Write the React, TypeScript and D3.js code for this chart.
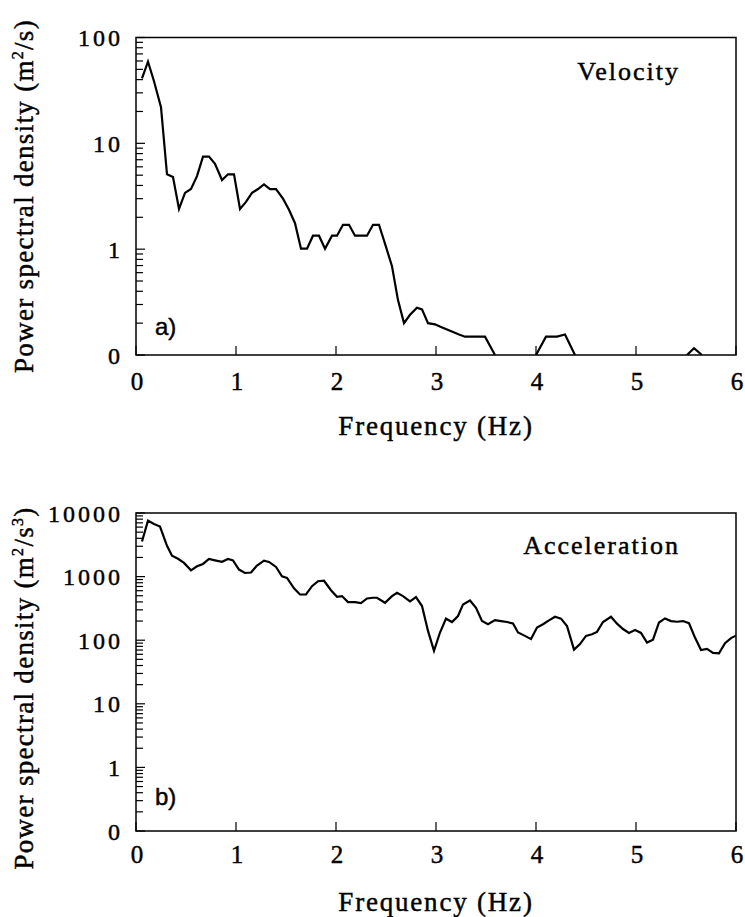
import React from "react";
import * as d3 from "d3";

// ---------- data ----------
const xTicks = [0, 1, 2, 3, 4, 5, 6];

const velFreq = [0.06,0.12,0.18,0.25,0.31,0.37,0.43,0.49,0.55,0.61,0.67,0.73,0.79,0.86,0.92,0.98,1.04,1.10,1.16,1.22,1.28,1.34,1.40,1.47,1.53,1.59,1.65,1.71,1.77,1.83,1.89,1.96,2.01,2.07,2.13,2.19,2.25,2.31,2.37,2.43,2.50,2.56,2.62,2.68,2.74,2.81,2.86,2.92,2.99,3.05,3.11,3.17,3.23,3.29,3.35,3.41,3.49,3.59,3.80,4.00,4.10,4.21,4.29,4.39,5.00,5.51,5.58,5.66];
const velPsd: (number | null)[] = [41,59,38.6,22,5.1,4.8,2.4,3.4,3.7,4.9,7.5,7.5,6.4,4.5,5.1,5.1,2.4,2.8,3.4,3.7,4.1,3.7,3.7,3.0,2.36,1.76,1.01,1.01,1.34,1.34,1.01,1.34,1.34,1.70,1.70,1.34,1.34,1.34,1.70,1.70,1.05,0.69,0.33,0.20,0.24,0.28,0.27,0.20,0.195,0.184,0.174,0.165,0.156,0.149,0.149,0.149,0.149,0.1,null,0.1,0.149,0.149,0.156,0.1,null,0.1,0.116,0.1];

const accFreq = [0.06,0.12,0.18,0.24,0.31,0.36,0.42,0.48,0.55,0.61,0.67,0.73,0.79,0.86,0.92,0.97,1.03,1.09,1.15,1.21,1.28,1.33,1.40,1.46,1.51,1.58,1.64,1.70,1.76,1.82,1.88,1.95,2.01,2.06,2.12,2.19,2.25,2.31,2.37,2.41,2.49,2.56,2.61,2.67,2.74,2.80,2.86,2.92,2.98,3.04,3.10,3.16,3.22,3.27,3.34,3.40,3.46,3.52,3.59,3.65,3.71,3.77,3.82,3.89,3.95,4.01,4.07,4.13,4.19,4.25,4.31,4.38,4.44,4.50,4.56,4.61,4.67,4.75,4.81,4.87,4.93,4.99,5.05,5.11,5.17,5.23,5.29,5.35,5.41,5.47,5.53,5.59,5.65,5.71,5.77,5.83,5.89,5.95,6.00];
const accPsd = [3560,7590,6730,6110,3050,2130,1910,1640,1256,1450,1580,1890,1800,1710,1890,1800,1290,1140,1160,1490,1780,1700,1420,1010,955,656,523,523,706,845,860,611,482,494,397,397,383,453,465,465,388,493,556,493,407,475,344,140,68,132,218,193,240,365,422,324,200,178,207,200,193,184,132,117,104,158,178,205,234,218,167,71,87,117,124,135,193,234,182,150,130,145,130,92,102,190,220,200,195,200,185,110,70,73,63,62,90,108,118];

const velTicks = [0.1, 1, 10, 100];
const accTicks = [0.1, 1, 10, 100, 1000, 10000];

const SERIF = "'Liberation Serif', 'Times New Roman', serif";
const SANS = "'Liberation Sans', Arial, sans-serif";
const TXT = { stroke: "#000", strokeWidth: 0.45 };

type PanelProps = {
  id: string;
  top: number;
  bottom: number;
  freq: number[];
  psd: (number | null)[];
  yTicks: number[];
  title: string;
  titleBaseline: number;
  tag: string;
  tagBaseline: number;
  unitSup: string;
  yTitleCenter: number;
  xLabelOffset: number;
};

const LEFT = 136;
const RIGHT = 736;

function Panel(p: PanelProps) {
  const x = d3.scaleLinear().domain([0, 6]).range([LEFT, RIGHT]);
  const y = d3
    .scaleLog()
    .domain([p.yTicks[0], p.yTicks[p.yTicks.length - 1]])
    .range([p.bottom, p.top]);
  const data = p.freq.map((f, i) => ({ f, v: p.psd[i] }));
  const line = d3
    .line<{ f: number; v: number | null }>()
    .defined((d) => d.v != null)
    .x((d) => x(d.f))
    .y((d) => y(d.v as number));
  const minor = y.ticks(20);
  const fmt = (t: number) => (t < 1 ? "0" : String(t));

  return (
    <g>
      <defs>
        <clipPath id={`clip-${p.id}`}>
          <rect x={LEFT} y={p.top} width={RIGHT - LEFT} height={p.bottom - p.top} />
        </clipPath>
      </defs>
      {/* y ticks */}
      {minor.map((t, i) => {
        const lg = Math.log10(t);
        const isMajor = Math.abs(lg - Math.round(lg)) < 1e-9;
        return (
          <line
            key={`yt${i}`}
            x1={LEFT}
            x2={LEFT + (isMajor ? 9 : 7)}
            y1={y(t)}
            y2={y(t)}
            stroke="#000"
            strokeWidth={1.2}
          />
        );
      })}
      {p.yTicks.map((t, i) => (
        <text
          key={`yl${i}`}
          x={123}
          y={y(t)}
          dy="0.36em"
          textAnchor="end"
          fontFamily={SERIF}
          fontSize={24}
          letterSpacing={3}
          {...TXT}
        >
          {fmt(t)}
        </text>
      ))}
      {/* x ticks */}
      {xTicks.map((t, i) => (
        <line key={`xt${i}`} x1={x(t)} x2={x(t)} y1={p.bottom} y2={p.bottom - 9} stroke="#000" strokeWidth={1.2} />
      ))}
      {xTicks.map((t, i) => (
        <text
          key={`xl${i}`}
          x={x(t) + 1}
          y={p.bottom + p.xLabelOffset}
          textAnchor="middle"
          fontFamily={SERIF}
          fontSize={25}
          {...TXT}
        >
          {t}
        </text>
      ))}
      {/* frame */}
      <rect
        x={LEFT}
        y={p.top}
        width={RIGHT - LEFT}
        height={p.bottom - p.top}
        fill="none"
        stroke="#000"
        strokeWidth={1.5}
      />
      {/* data */}
      <path
        d={line(data as any) || ""}
        fill="none"
        stroke="#000"
        strokeWidth={2.2}
        strokeLinejoin="miter"
        clipPath={`url(#clip-${p.id})`}
      />
      {/* labels */}
      <text
        x={RIGHT - 56}
        y={p.titleBaseline}
        textAnchor="end"
        fontFamily={SERIF}
        fontSize={26}
        letterSpacing={2}
        {...TXT}
      >
        {p.title}
      </text>
      <text x={155} y={p.tagBaseline} fontFamily={SANS} fontSize={24} {...TXT}>
        {p.tag}
      </text>
      <text
        x={436}
        y={p.bottom + 80}
        textAnchor="middle"
        fontFamily={SERIF}
        fontSize={27}
        letterSpacing={1.8}
        {...TXT}
      >
        Frequency (Hz)
      </text>
      <text
        transform={`translate(33,${p.yTitleCenter}) rotate(-90)`}
        textAnchor="middle"
        fontFamily={SERIF}
        fontSize={27}
        letterSpacing={1.3}
        {...TXT}
      >
        Power spectral density (m
        <tspan dy={-10} fontSize={16}>2</tspan>
        <tspan dy={10}>/s</tspan>
        {p.unitSup ? <tspan dy={-10} fontSize={16}>{p.unitSup}</tspan> : null}
        <tspan dy={p.unitSup ? 10 : 0}>)</tspan>
      </text>
    </g>
  );
}

export default function App() {
  return (
    <svg
      width={745}
      height={917}
      style={{ position: "absolute", left: 0, top: 0, background: "#fff" }}
    >
      <rect width={745} height={917} fill="#fff" />
      <Panel
        id="vel"
        top={37.5}
        bottom={355}
        freq={velFreq}
        psd={velPsd}
        yTicks={velTicks}
        title="Velocity"
        titleBaseline={80}
        tag="a)"
        tagBaseline={335}
        unitSup=""
        yTitleCenter={196}
        xLabelOffset={35}
      />
      <Panel
        id="acc"
        top={513}
        bottom={831}
        freq={accFreq}
        psd={accPsd}
        yTicks={accTicks}
        title="Acceleration"
        titleBaseline={554}
        tag="b)"
        tagBaseline={805}
        unitSup="3"
        yTitleCenter={688}
        xLabelOffset={32}
      />
    </svg>
  );
}
